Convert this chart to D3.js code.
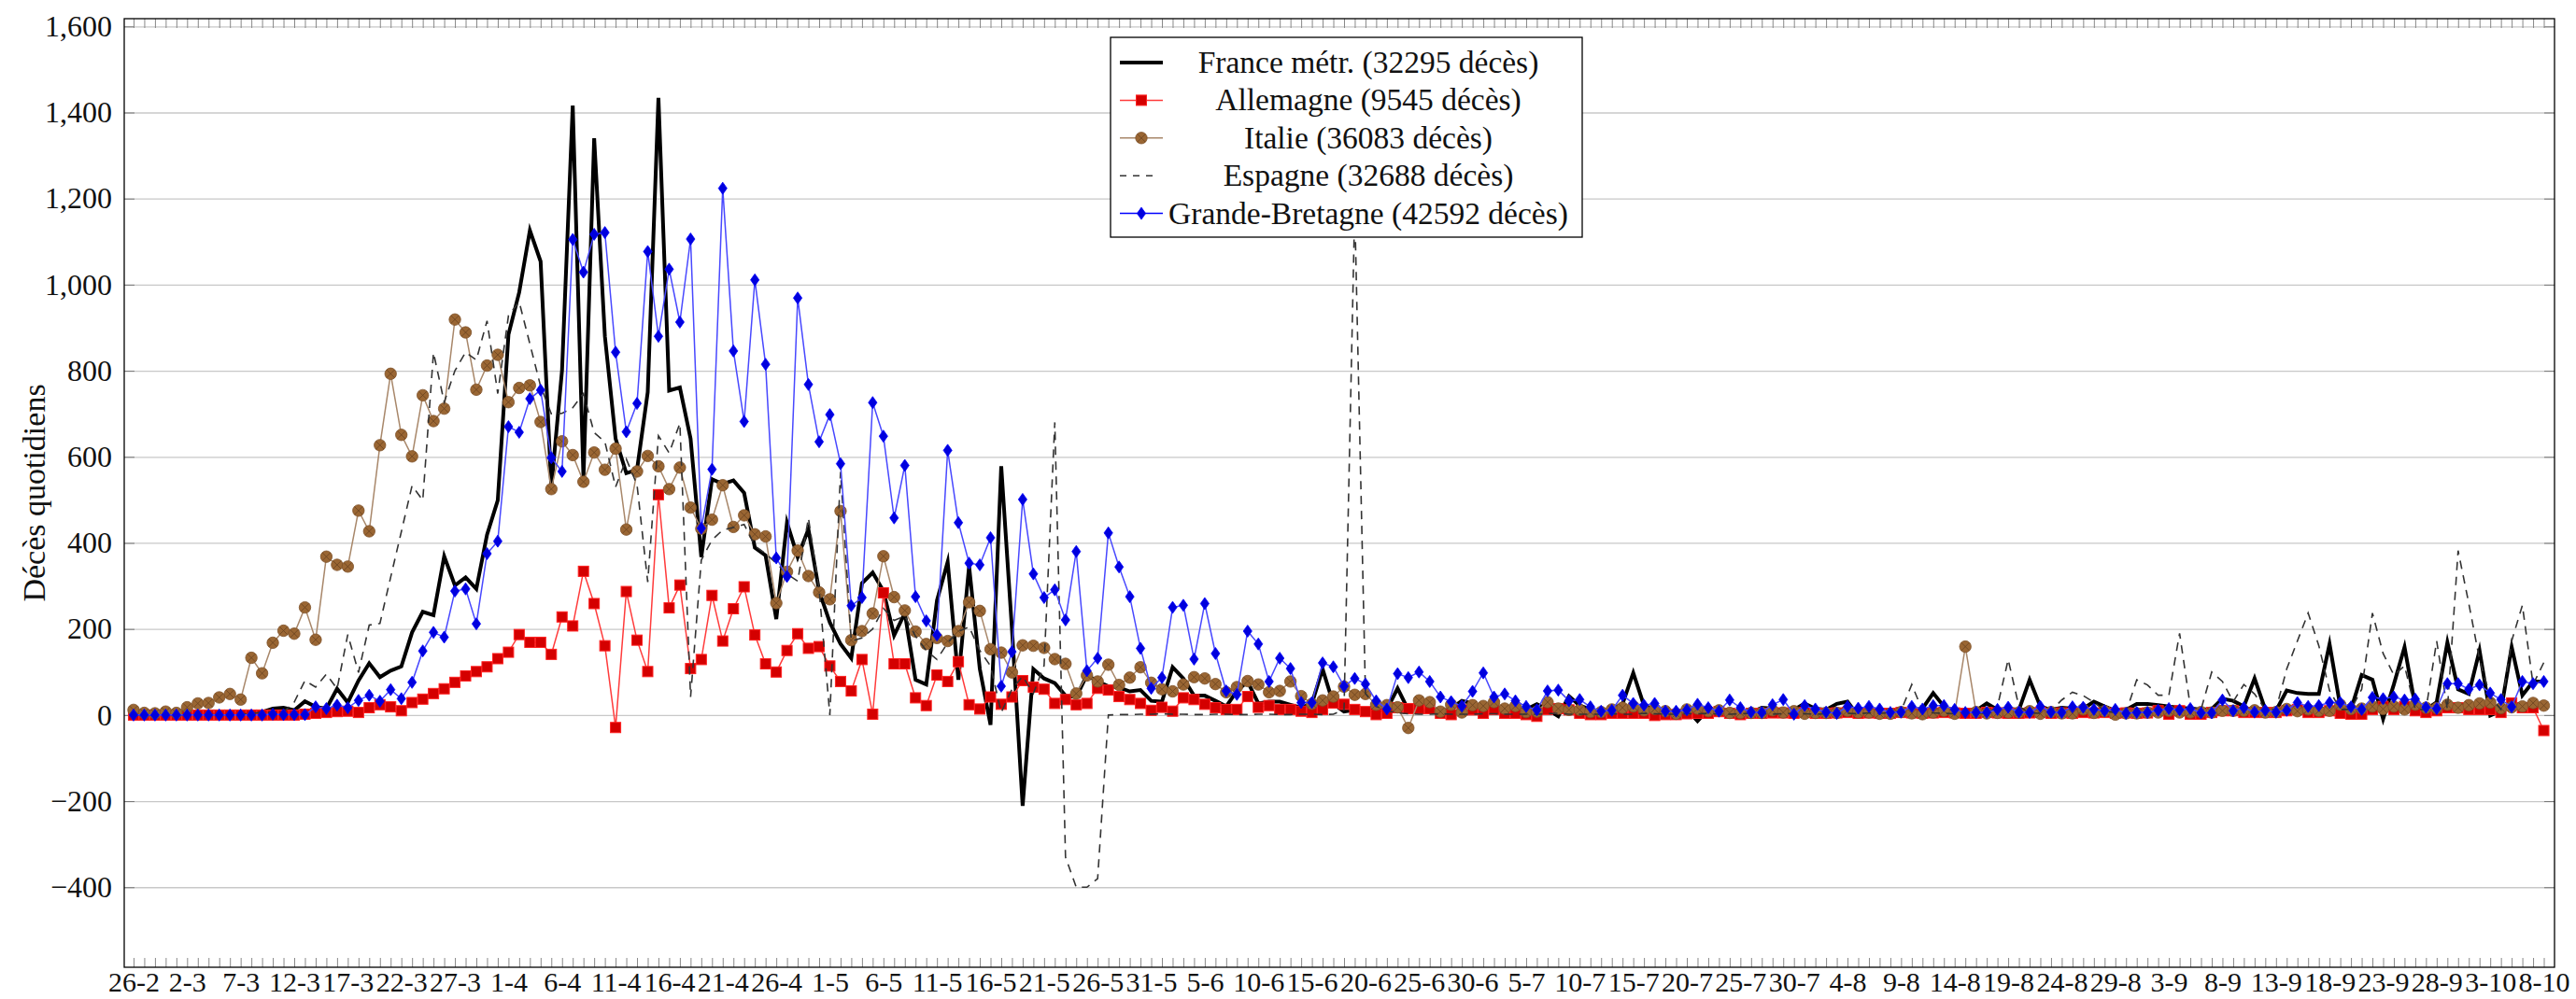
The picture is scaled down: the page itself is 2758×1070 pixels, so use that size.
<!DOCTYPE html>
<html>
<head>
<meta charset="utf-8">
<script src="https://cdn.jsdelivr.net/npm/d3@7"></script>
<style>
body { margin: 0; background: #fff; }
svg text { font-family: "Liberation Serif", "Times New Roman", serif; fill: #111; }
</style>
</head>
<body>
<svg id="chart" width="2758" height="1070"></svg>
<script>
// day labels shown every 5th day, starting 26-2
const tickLabels = ['26-2','2-3','7-3','12-3','17-3','22-3','27-3','1-4','6-4','11-4','16-4','21-4','26-4','1-5','6-5','11-5','16-5','21-5','26-5','31-5','5-6','10-6','15-6','20-6','25-6','30-6','5-7','10-7','15-7','20-7','25-7','30-7','4-8','9-8','14-8','19-8','24-8','29-8','3-9','8-9','13-9','18-9','23-9','28-9','3-10','8-10'];
const nDays = 226;

const france = [
0,1,0,0,0,1,1,2,1,2,3,5,7,
15,17,11,32,19,15,61,29,80,120,88,103,113,192,240,232,369,301,320,293,419,499,
884,982,1126,1054,530,801,1416,550,1340,880,642,562,570,750,1434,754,761,642,
367,548,537,545,516,389,371,223,447,367,432,288,215,165,132,306,331,288,185,
237,82,71,266,356,82,346,107,-23,578,200,-211,107,85,74,45,42,93,78,67,64,55,58,33,31,111,85,45,45,33,20,56,78,27,31,31,24,17,27,107,
26,8,12,13,10,13,62,12,10,8,5,15,33,27,19,22,15,15,13,25,13,-3,44,22,13,8,13,26,98,22,13,8,8,13,-14,13,8,8,5,
6,17,15,10,12,27,15,12,26,31,-2,15,12,10,8,12,15,51,20,10,8,10,27,12,15,12,82,20,12,17,15,15,31,20,10,12,26,26,23,
20,17,15,13,14,38,33,20,85,13,10,57,51,49,49,165,20,13,93,82,-9,71,158,20,13,30,169,60,49,150,-1,10,158,46,78,78];

const germany = [
0,0,0,0,0,0,0,0,0,0,0,0,0,0,0,0,
2,4,6,8,9,6,17,24,19,10,29,37,50,61,76,91,101,112,131,146,187,169,169,
141,228,207,334,259,161,-29,287,174,101,512,249,302,108,129,278,172,247,298,186,119,100,150,189,155,159,114,78,56,129,2,284,119,
119,40,22,93,78,124,24,14,42,25,42,80,65,60,27,36,24,27,62,58,43,36,27,11,18,9,40,36,25,17,13,13,43,18,22,13,13,9,6,13,
28,25,13,8,1,4,17,15,15,15,4,1,12,12,4,13,4,4,1,-3,13,15,12,4,1,1,4,4,4,4,-1,1,1,3,4,4,8,4,1,
4,4,5,5,4,6,4,4,5,6,4,5,4,4,6,5,4,5,6,5,4,4,6,5,4,4,5,6,4,5,4,6,5,6,4,5,4,5,10,
2,10,2,2,6,10,10,6,6,6,6,10,13,6,6,10,4,2,2,13,20,13,20,10,6,10,17,17,13,13,13,6,28,17,17,-36];

const italy = [
12,5,4,8,5,18,27,28,41,49,36,133,97,168,196,189,250,175,368,349,345,475,427,627,793,651,601,743,683,712,
919,889,756,812,837,727,760,766,681,525,636,604,542,610,570,619,431,566,602,578,525,575,482,433,454,534,437,464,420,415,
260,333,382,323,285,269,474,174,195,236,369,274,
243,194,165,179,172,195,262,242,153,145,99,162,161,156,130,119,50,92,78,117,70,87,111,75,60,55,71,88,85,72,53,65,79,71,53,56,78,44,26,34,
43,66,47,49,24,23,18,-30,34,30,8,24,6,23,21,30,15,21,7,8,30,15,12,12,7,7,13,17,20,11,14,9,3,13,15,9,11,5,5,
5,5,11,6,9,3,5,5,5,10,6,6,3,3,7,4,2,6,10,3,159,7,4,5,6,6,9,3,7,4,4,13,5,9,1,4,4,6,6,
10,6,6,7,6,10,10,10,11,6,7,14,9,13,10,10,24,14,15,20,14,20,13,24,17,16,24,17,23,27,29,16,18,20,28,22];

const spain = [
0,0,0,0,0,0,0,1,0,1,3,3,7,5,7,30,
80,65,95,61,187,99,209,213,320,426,533,499,842,727,800,843,825,916,747,928,960,862,764,
700,701,714,747,656,635,530,595,535,309,649,609,678,42,360,407,430,436,443,393,375,353,328,311,458,291,0,565,172,179,200,248,220,
230,183,150,129,168,194,205,150,114,6,60,90,50,115,680,-330,-400,-400,-380,0,
1,1,2,2,3,2,2,1,1,2,2,1,1,2,2,1,1,2,2,1,2,12,
1179,50,
20,10,5,3,2,2,3,2,2,2,3,3,2,2,2,2,3,4,2,2,2,2,3,2,2,4,3,2,2,3,3,4,2,2,3,4,3,2,3,4,3,2,3,3,4,3,5,4,5,10,
71,10,5,4,3,4,5,3,20,129,20,5,4,10,35,53,45,30,10,5,6,82,70,46,
46,190,20,13,100,78,31,71,49,13,13,107,172,237,161,57,13,13,60,237,143,93,114,13,13,172,13,382,259,129,42,13,172,255,71,122];

const uk = [
0,0,0,0,0,0,0,0,0,0,0,0,0,2,1,1,1,
19,15,23,17,34,46,32,59,38,76,149,192,181,288,293,212,375,404,670,657,735,755,
598,566,1105,1029,1117,1121,843,658,724,1077,880,1036,913,1106,434,571,1224,846,682,1011,815,365,322,969,768,635,698,584,254,273,726,648,458,
580,275,219,186,615,447,353,349,412,67,147,501,328,273,291,221,380,103,132,423,344,275,155,62,87,250,255,130,259,143,56,48,195,165,78,132,108,29,29,121,
112,67,85,72,33,14,96,87,100,78,42,31,21,55,98,42,49,33,20,12,56,58,33,36,19,9,11,46,27,23,27,9,9,12,25,17,9,35,17,
7,6,24,36,2,22,14,7,4,20,16,20,14,6,7,20,14,22,22,13,6,6,6,13,18,7,6,20,7,6,19,18,13,10,13,4,6,6,11,
15,12,15,5,5,35,10,17,7,11,7,11,29,20,22,29,29,19,13,41,38,42,35,37,18,15,73,73,60,70,51,36,19,78,73,78];

const legendLabels = ['France métr. (32295 décès)', 'Allemagne (9545 décès)', 'Italie (36083 décès)', 'Espagne (32688 décès)', 'Grande-Bretagne (42592 décès)'];

const pLeft = 133, pRight = 2735, pTop = 20, pBottom = 1036;

const x = d3.scaleLinear().domain([-0.87, nDays]).range([pLeft, pRight]);
const y = d3.scaleLinear().domain([-586, 1618]).range([pBottom, pTop]);
const yTicks = d3.range(-400, 1601, 200);

const svg = d3.select('#chart');

svg.append('defs').append('clipPath').attr('id', 'plotclip')
    .append('rect')
    .attr('x', pLeft).attr('y', pTop)
    .attr('width', pRight - pLeft).attr('height', pBottom - pTop);

// horizontal grid
svg.append('g')
    .attr('transform', `translate(${pLeft},0)`)
    .call(d3.axisLeft(y).tickValues(yTicks).tickSize(-(pRight - pLeft)).tickFormat(''))
    .call(g => g.select('.domain').remove())
    .call(g => g.selectAll('line').attr('stroke', '#c8c8c8').attr('stroke-width', 1.3));

// y axis, ticks inside on both sides
svg.append('g')
    .attr('transform', `translate(${pLeft},0)`)
    .call(d3.axisLeft(y).tickValues(yTicks).tickSize(-11).tickPadding(13).tickFormat(d3.format(',')))
    .call(g => g.select('.domain').remove())
    .call(g => g.selectAll('line').attr('stroke', '#777'))
    .call(g => g.selectAll('text').attr('font-size', 32).style('font-family', '"Liberation Serif", serif'));

svg.append('g')
    .attr('transform', `translate(${pRight},0)`)
    .call(d3.axisRight(y).tickValues(yTicks).tickSize(-11).tickFormat(''))
    .call(g => g.select('.domain').remove())
    .call(g => g.selectAll('line').attr('stroke', '#777'));

// x axis: one tick per day, label every 5 days
const dayTicks = d3.range(0, nDays);
svg.append('g')
    .attr('transform', `translate(0,${pBottom})`)
    .call(d3.axisBottom(x).tickValues(dayTicks).tickSize(-10).tickPadding(5)
        .tickFormat(d => d % 5 === 0 ? tickLabels[d / 5] : ''))
    .call(g => g.select('.domain').remove())
    .call(g => g.selectAll('line').attr('stroke', '#888'))
    .call(g => g.selectAll('text').attr('font-size', 30).style('font-family', '"Liberation Serif", serif'));

svg.append('g')
    .attr('transform', `translate(0,${pTop})`)
    .call(d3.axisTop(x).tickValues(dayTicks).tickSize(-10).tickFormat(''))
    .call(g => g.select('.domain').remove())
    .call(g => g.selectAll('line').attr('stroke', '#888'));

svg.append('text')
    .attr('transform', `translate(48,${(pTop + pBottom) / 2}) rotate(-90)`)
    .attr('text-anchor', 'middle')
    .attr('font-size', 34)
    .text('Décès quotidiens');

const line = d3.line().x((d, i) => x(i)).y(d => y(d));
const plot = svg.append('g').attr('clip-path', 'url(#plotclip)');

// France
plot.append('path')
    .datum(france)
    .attr('fill', 'none')
    .attr('stroke', '#000')
    .attr('stroke-width', 4)
    .attr('stroke-linejoin', 'miter')
    .attr('stroke-miterlimit', 6)
    .attr('d', line);

// Allemagne
plot.append('path')
    .datum(germany)
    .attr('fill', 'none')
    .attr('stroke', '#ff3b3b')
    .attr('stroke-width', 1.5)
    .attr('d', line);
plot.append('g')
    .selectAll('rect')
    .data(germany)
    .join('rect')
    .attr('x', (d, i) => x(i) - 5.5)
    .attr('y', d => y(d) - 5.5)
    .attr('width', 11)
    .attr('height', 11)
    .attr('fill', '#d40000')
    .attr('stroke', '#ff2020')
    .attr('stroke-width', 1);

// Italie
plot.append('path')
    .datum(italy)
    .attr('fill', 'none')
    .attr('stroke', '#a8876a')
    .attr('stroke-width', 1.5)
    .attr('d', line);
const itMarks = plot.append('g')
    .selectAll('g')
    .data(italy)
    .join('g')
    .attr('transform', (d, i) => `translate(${x(i)},${y(d)})`);
itMarks.append('circle')
    .attr('r', 6.2)
    .attr('fill', '#9a6633')
    .attr('stroke', '#7d5128')
    .attr('stroke-width', 0.8);
itMarks.append('path')
    .attr('d', 'M-4.2,-4.2L4.2,4.2M-4.2,4.2L4.2,-4.2')
    .attr('stroke', '#6a4320')
    .attr('stroke-width', 0.8);

// Espagne
plot.append('path')
    .datum(spain)
    .attr('fill', 'none')
    .attr('stroke', '#333')
    .attr('stroke-width', 1.6)
    .attr('stroke-dasharray', '9,7')
    .attr('d', line);

// Grande-Bretagne
plot.append('path')
    .datum(uk)
    .attr('fill', 'none')
    .attr('stroke', '#4848ff')
    .attr('stroke-width', 1.5)
    .attr('d', line);
plot.append('g')
    .selectAll('path')
    .data(uk)
    .join('path')
    .attr('d', 'M0,-6.5L4.6,0L0,6.5L-4.6,0Z')
    .attr('transform', (d, i) => `translate(${x(i)},${y(d)})`)
    .attr('fill', '#0000dd')
    .attr('stroke', '#0000ff')
    .attr('stroke-width', 0.8);

// frame
svg.append('rect')
    .attr('x', pLeft).attr('y', pTop)
    .attr('width', pRight - pLeft).attr('height', pBottom - pTop)
    .attr('fill', 'none')
    .attr('stroke', '#000')
    .attr('stroke-width', 1.3);

// legend
const lg = svg.append('g');
lg.append('rect')
    .attr('x', 1189).attr('y', 40)
    .attr('width', 505).attr('height', 214)
    .attr('fill', '#fff')
    .attr('stroke', '#000')
    .attr('stroke-width', 1.3);

const rowY = k => 67 + 40.4 * k;
const sx0 = 1199, sx1 = 1245, sxm = 1222;

lg.append('line').attr('x1', sx0).attr('x2', sx1).attr('y1', rowY(0)).attr('y2', rowY(0))
    .attr('stroke', '#000').attr('stroke-width', 4);

lg.append('line').attr('x1', sx0).attr('x2', sx1).attr('y1', rowY(1)).attr('y2', rowY(1))
    .attr('stroke', '#ff3b3b').attr('stroke-width', 1.5);
lg.append('rect').attr('x', sxm - 5.5).attr('y', rowY(1) - 5.5).attr('width', 11).attr('height', 11)
    .attr('fill', '#d40000').attr('stroke', '#ff2020');

lg.append('line').attr('x1', sx0).attr('x2', sx1).attr('y1', rowY(2)).attr('y2', rowY(2))
    .attr('stroke', '#a8876a').attr('stroke-width', 1.5);
lg.append('circle').attr('cx', sxm).attr('cy', rowY(2)).attr('r', 6.2)
    .attr('fill', '#9a6633').attr('stroke', '#7d5128').attr('stroke-width', 0.8);
lg.append('path').attr('transform', `translate(${sxm},${rowY(2)})`)
    .attr('d', 'M-4.2,-4.2L4.2,4.2M-4.2,4.2L4.2,-4.2')
    .attr('stroke', '#6a4320').attr('stroke-width', 0.8);

lg.append('line').attr('x1', sx0).attr('x2', sx1 - 4).attr('y1', rowY(3)).attr('y2', rowY(3))
    .attr('stroke', '#333').attr('stroke-width', 1.6).attr('stroke-dasharray', '7,7');

lg.append('line').attr('x1', sx0).attr('x2', sx1).attr('y1', rowY(4)).attr('y2', rowY(4))
    .attr('stroke', '#0000ff').attr('stroke-width', 1.5);
lg.append('path').attr('transform', `translate(${sxm},${rowY(4)})`)
    .attr('d', 'M0,-6.5L4.6,0L0,6.5L-4.6,0Z')
    .attr('fill', '#0000dd').attr('stroke', '#0000ff').attr('stroke-width', 0.8);

lg.selectAll('text.lab')
    .data(legendLabels)
    .join('text')
    .attr('class', 'lab')
    .attr('x', 1465)
    .attr('y', (d, k) => rowY(k) + 11)
    .attr('text-anchor', 'middle')
    .attr('font-size', 33.5)
    .text(d => d);
</script>
</body>
</html>
